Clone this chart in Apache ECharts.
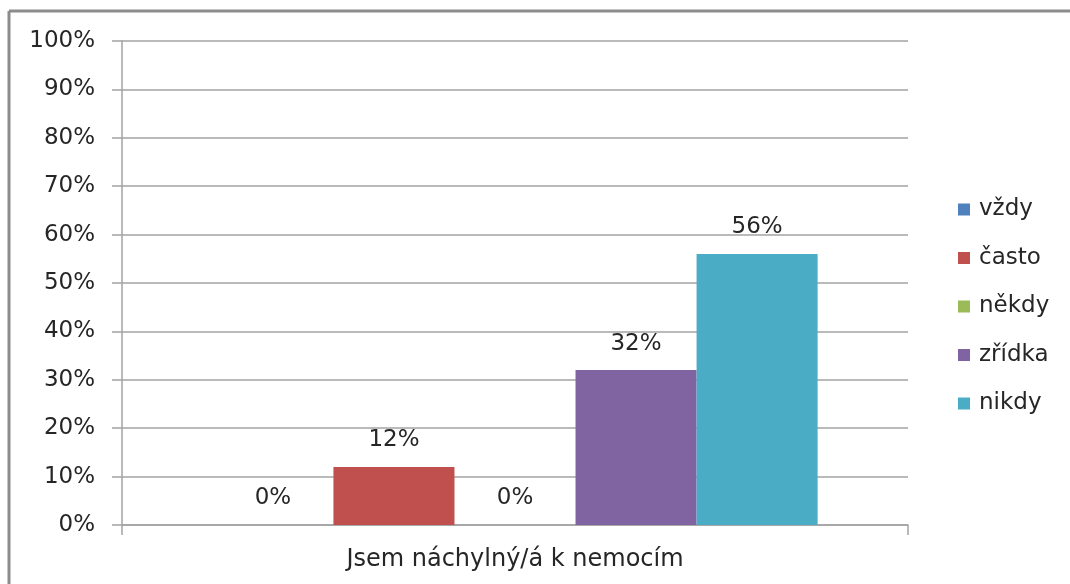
<!DOCTYPE html>
<html>
<head>
<meta charset="utf-8">
<script src="https://cdn.jsdelivr.net/npm/echarts@6/dist/echarts.min.js"></script>
<style>
  html, body { margin: 0; padding: 0; background: #ffffff; }
  #chart { width: 1070px; height: 584px; }
</style>
</head>
<body>
<div id="chart"></div>
<script>
// Category and answer series (percent of respondents)
const categories = ['Jsem náchylný/á k nemocím'];
const seriesNames = ['vždy', 'často', 'někdy', 'zřídka', 'nikdy'];
const seriesValues = [[0], [12], [0], [32], [56]];
const seriesColors = ['#4F81BD', '#C0504D', '#9BBB59', '#8064A2', '#4BACC6'];
const yTicks = { min: 0, max: 100, interval: 10 };

const FONT = 'DejaVu Sans';
const TEXT = '#262626';
const GRIDC = '#a3a3a3';

const chart = echarts.init(document.getElementById('chart'), null, { renderer: 'canvas' });

const series = seriesNames.map((name, i) => ({
  name: name,
  type: 'bar',
  data: seriesValues[i],
  barGap: '0%',
  barCategoryGap: '23%',
  itemStyle: { color: seriesColors[i] },
  label: {
    show: true,
    position: 'top',
    distance: 15,
    formatter: p => p.value + '%',
    fontFamily: FONT,
    fontSize: 23,
    color: TEXT
  }
}));

chart.setOption({
  animation: false,
  backgroundColor: '#ffffff',
  grid: { left: 122, right: 162, top: 41, bottom: 59, containLabel: false },
  legend: {
    orient: 'vertical',
    left: 953,
    top: 193,
    icon: 'rect',
    itemWidth: 12,
    itemHeight: 12,
    itemGap: 25.5,
    textStyle: { fontFamily: FONT, fontSize: 23, color: TEXT, padding: [0, 0, 0, 4] },
    data: seriesNames
  },
  xAxis: {
    type: 'category',
    data: categories,
    boundaryGap: true,
    axisLine: { show: true, lineStyle: { color: GRIDC, width: 1.5 } },
    axisTick: { show: true, length: 10, lineStyle: { color: GRIDC, width: 1.5 } },
    axisLabel: { fontFamily: FONT, fontSize: 24, color: TEXT, margin: 23 }
  },
  yAxis: {
    type: 'value',
    min: yTicks.min,
    max: yTicks.max,
    interval: yTicks.interval,
    axisLine: { show: true, lineStyle: { color: GRIDC, width: 1.5 } },
    axisTick: { show: true, length: 10, lineStyle: { color: GRIDC, width: 1.5 } },
    splitLine: { show: true, lineStyle: { color: GRIDC, width: 1.5 } },
    axisLabel: { fontFamily: FONT, fontSize: 23, color: TEXT, margin: 27, formatter: '{value}%' }
  },
  graphic: [
    { type: 'line', shape: { x1: 9, y1: 11, x2: 1070, y2: 11 }, style: { stroke: '#8c8c8c', lineWidth: 3 } },
    { type: 'line', shape: { x1: 9, y1: 11, x2: 9, y2: 584 }, style: { stroke: '#8c8c8c', lineWidth: 3 } }
  ],
  series: series
});
</script>
</body>
</html>
